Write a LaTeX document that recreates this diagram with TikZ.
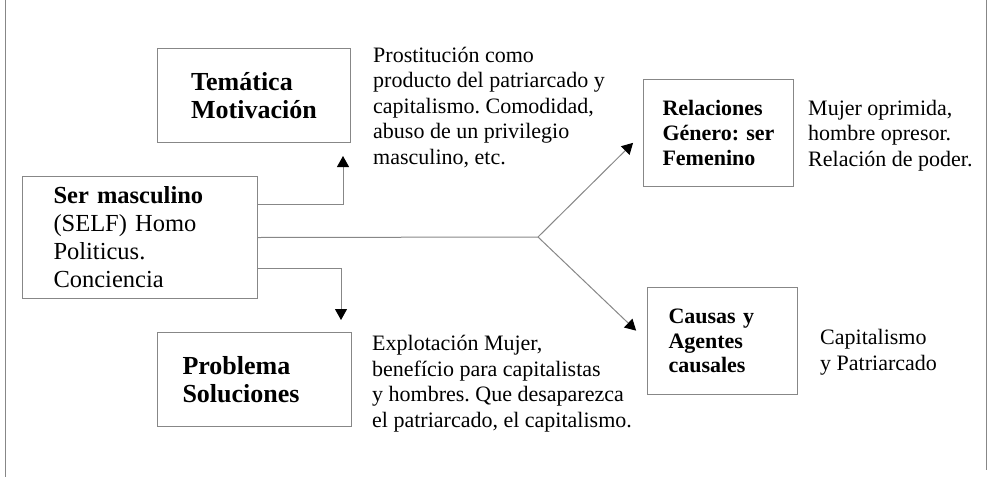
\documentclass[tikz,border=0pt]{standalone}
\usepackage{fontspec}
\setmainfont{Liberation Serif}
\usetikzlibrary{arrows.meta}
\hyphenpenalty=10000
\frenchspacing
\definecolor{linegray}{RGB}{135,135,135}
\newcommand{\txtsize}{\fontsize{22pt}{25.5pt}\selectfont}
\newcommand{\titlesize}{\fontsize{22pt}{24.8pt}\selectfont\bfseries}
\newcommand{\bigtitle}{\fontsize{26pt}{28pt}\selectfont\bfseries}
\newcommand{\selfsize}{\fontsize{24.5pt}{28pt}\selectfont}
\tikzset{
  box/.style={draw=linegray, line width=1pt, align=left, inner sep=0pt, anchor=north west},
  txt/.style={font=\txtsize, align=left, inner sep=0pt, anchor=base west},
  link/.style={draw=linegray, line width=1pt},
  arr/.style={link, -{Triangle[length=11pt, width=12pt, color=black]}},
  frame/.style={draw=linegray, line width=1pt}
}
\begin{document}
\begin{tikzpicture}[x=1pt, y=-1pt]
    \useasboundingbox (0,0) rectangle (990,477);
    % page rules on both sides
    \draw[frame] (5,0) -- (5,477);
    \draw[frame] (986,0) -- (986,470);
    % boxes
    \node[box, font=\bigtitle, minimum width=193pt, minimum height=94pt] (tema) at (157,48) {Temática\\Motivación};
    \node[box, font=\selfsize, text width=173pt, minimum width=235pt, minimum height=122pt] (ser) at (22,176) {\textbf{Ser masculino}\\(SELF) Homo\\Politicus.\\Conciencia};
    \node[box, font=\bigtitle, text width=144pt, minimum width=194pt, minimum height=94pt] (prob) at (157,332) {Problema\\Soluciones};
    \node[box, font=\titlesize, text width=112pt, minimum width=150pt, minimum height=107pt] (rel) at (643,79) {Relaciones\\Género: ser\\Femenino};
    \node[box, font=\titlesize, text width=108pt, minimum width=150pt, minimum height=107pt] (cas) at (647,287) {Causas y\\Agentes\\causales};
    % notes beside the boxes (placed by the baseline of their last line)
    \node[txt] (prost) at (373,164) {Prostitución como\\producto del patriarcado y\\capitalismo. Comodidad,\\abuso de un privilegio\\masculino, etc.};
    \node[txt] (mujer) at (808,166) {Mujer oprimida,\\hombre opresor.\\Relación de poder.};
    \node[txt] (expl) at (372,427) {Explotación Mujer,\\benefício para capitalistas\\y hombres. Que desaparezca\\el patriarcado, el capitalismo.};
    \node[txt] (capit) at (820,370) {Capitalismo\\y Patriarcado};
    % connectors
    \coordinate (fork) at (538,237);
    \draw[link] (ser.east) -- (fork);
    \draw[arr] ([yshift=33pt]ser.east) -| ([xshift=-8pt,yshift=-13pt]tema.south east);
    \draw[arr] ([yshift=-31pt]ser.east) -| ([xshift=-11pt,yshift=12pt]prob.north east);
    \draw[arr, shorten >=14pt] (fork) -- (rel.west);
    \draw[arr, shorten >=15pt] (fork) -- (cas.west);
\end{tikzpicture}
\end{document}
